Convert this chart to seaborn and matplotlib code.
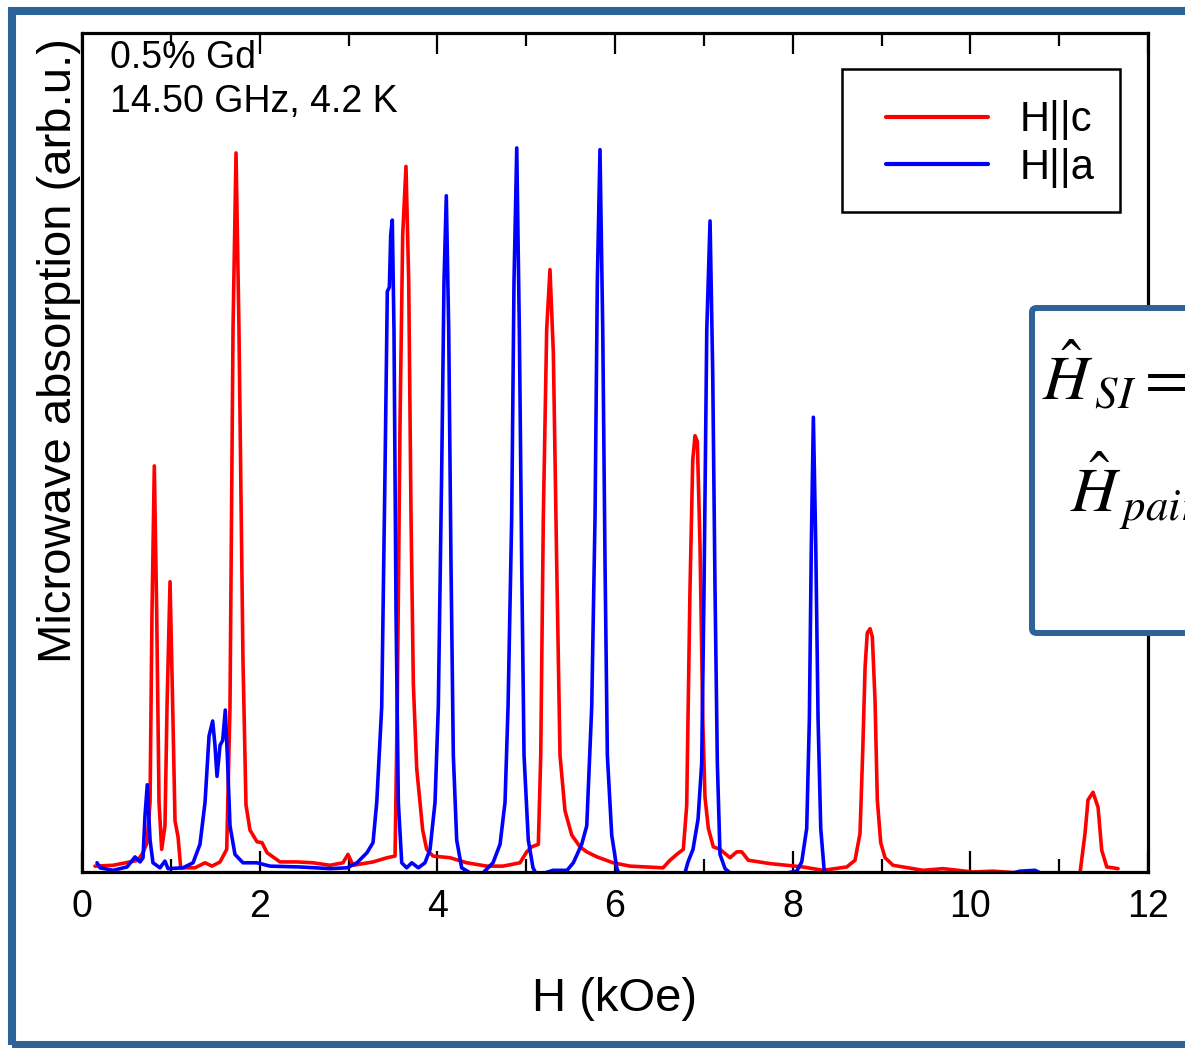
import pandas as pd
import numpy as np
import matplotlib
matplotlib.use("Agg")
import matplotlib.pyplot as plt
import seaborn as sns
from matplotlib.patches import Rectangle, FancyBboxPatch

# ---- dados (H em kOe, absorcao em u.a.) ----
h_c = [0.146, 0.349, 0.540, 0.630, 0.687, 0.732, 0.766, 0.788, 0.814, 0.841,
       0.867, 0.897, 0.934, 0.957, 0.991, 1.021, 1.047, 1.081, 1.111, 1.272,
       1.385, 1.463, 1.554, 1.629, 1.666, 1.700, 1.734, 1.767, 1.812, 1.846,
       1.891, 1.970, 2.026, 2.083, 2.229, 2.420, 2.600, 2.792, 2.938, 2.994,
       3.051, 3.276, 3.434, 3.524, 3.549, 3.580, 3.610, 3.647, 3.678, 3.704,
       3.730, 3.768, 3.805, 3.835, 3.880, 3.951, 4.143, 4.331, 4.556, 4.739,
       4.931, 5.006, 5.063, 5.137, 5.164, 5.193, 5.231, 5.268, 5.306, 5.344,
       5.381, 5.437, 5.513, 5.606, 5.682, 5.798, 5.978, 6.169, 6.541, 6.619,
       6.695, 6.769, 6.807, 6.844, 6.875, 6.901, 6.927, 6.957, 6.988, 7.013,
       7.051, 7.107, 7.182, 7.295, 7.370, 7.427, 7.501, 7.745, 8.117, 8.342,
       8.609, 8.702, 8.758, 8.789, 8.815, 8.840, 8.871, 8.897, 8.927, 8.953,
       8.991, 9.040, 9.130, 9.467, 9.693, 10.030, 10.255, 10.672, 11.010, 11.235,
       11.291, 11.325, 11.381, 11.438, 11.479, 11.536, 11.663]
a_c = [0.007, 0.008, 0.012, 0.014, 0.023, 0.035, 0.083, 0.309, 0.484, 0.309,
       0.083, 0.027, 0.055, 0.197, 0.346, 0.197, 0.061, 0.042, 0.005, 0.005,
       0.011, 0.007, 0.012, 0.027, 0.197, 0.647, 0.857, 0.647, 0.253, 0.080,
       0.050, 0.036, 0.035, 0.023, 0.012, 0.012, 0.011, 0.008, 0.011, 0.021,
       0.008, 0.012, 0.017, 0.019, 0.197, 0.534, 0.759, 0.841, 0.703, 0.422,
       0.224, 0.123, 0.083, 0.050, 0.027, 0.019, 0.017, 0.011, 0.007, 0.007,
       0.011, 0.024, 0.030, 0.033, 0.139, 0.422, 0.647, 0.718, 0.619, 0.365,
       0.139, 0.073, 0.044, 0.030, 0.024, 0.018, 0.011, 0.007, 0.005, 0.014,
       0.021, 0.027, 0.079, 0.336, 0.491, 0.520, 0.513, 0.389, 0.182, 0.089,
       0.052, 0.030, 0.027, 0.017, 0.024, 0.024, 0.014, 0.010, 0.006, 0.002,
       0.006, 0.014, 0.046, 0.145, 0.244, 0.285, 0.290, 0.280, 0.205, 0.086,
       0.035, 0.017, 0.008, 0.002, 0.004, 0.000, 0.001, -0.002, -0.001, -0.001,
       0.046, 0.086, 0.095, 0.077, 0.026, 0.006, 0.004]

h_a = [0.169, 0.203, 0.349, 0.507, 0.597, 0.653, 0.687, 0.709, 0.735, 0.766,
       0.799, 0.878, 0.934, 0.968, 1.137, 1.250, 1.328, 1.385, 1.430, 1.471,
       1.497, 1.520, 1.554, 1.584, 1.613, 1.636, 1.666, 1.722, 1.812, 1.970,
       2.116, 2.454, 2.792, 2.983, 3.096, 3.208, 3.276, 3.318, 3.374, 3.411,
       3.437, 3.460, 3.475, 3.493, 3.512, 3.535, 3.561, 3.599, 3.655, 3.712,
       3.786, 3.861, 3.918, 3.974, 4.011, 4.049, 4.075, 4.101, 4.128, 4.154,
       4.180, 4.218, 4.274, 4.368, 4.514, 4.627, 4.706, 4.762, 4.796, 4.837,
       4.863, 4.894, 4.923, 4.950, 4.976, 5.024, 5.077, 5.122, 5.302, 5.460,
       5.531, 5.625, 5.682, 5.738, 5.775, 5.801, 5.831, 5.862, 5.888, 5.914,
       5.963, 6.020, 6.057, 6.507, 6.788, 6.822, 6.878, 6.935, 6.976, 7.002,
       7.033, 7.070, 7.100, 7.126, 7.152, 7.182, 7.239, 7.295, 7.633, 8.046,
       8.102, 8.158, 8.188, 8.210, 8.233, 8.260, 8.286, 8.316, 8.353, 8.383,
       9.209, 10.334, 10.560, 10.728, 10.807]
a_a = [0.011, 0.005, 0.002, 0.006, 0.018, 0.012, 0.017, 0.067, 0.104, 0.038,
       0.011, 0.005, 0.013, 0.004, 0.005, 0.011, 0.033, 0.083, 0.162, 0.180,
       0.151, 0.114, 0.151, 0.157, 0.193, 0.139, 0.055, 0.021, 0.011, 0.011,
       0.007, 0.006, 0.004, 0.005, 0.011, 0.023, 0.035, 0.083, 0.197, 0.478,
       0.692, 0.697, 0.759, 0.777, 0.647, 0.309, 0.083, 0.011, 0.005, 0.011,
       0.005, 0.011, 0.027, 0.083, 0.197, 0.478, 0.703, 0.806, 0.647, 0.365,
       0.139, 0.038, 0.005, -0.001, -0.001, 0.011, 0.033, 0.083, 0.197, 0.422,
       0.703, 0.863, 0.647, 0.365, 0.139, 0.038, 0.005, -0.004, 0.002, 0.002,
       0.011, 0.033, 0.055, 0.197, 0.422, 0.703, 0.861, 0.647, 0.365, 0.139,
       0.044, 0.005, -0.006, -0.007, -0.001, 0.012, 0.027, 0.063, 0.130, 0.336,
       0.646, 0.776, 0.595, 0.336, 0.130, 0.021, 0.004, -0.001, -0.007, 0.001,
       0.012, 0.052, 0.182, 0.389, 0.542, 0.389, 0.182, 0.052, 0.004, -0.004,
       -0.007, -0.005, 0.001, 0.002, -0.002]

series = ["H||c", "H||a"]
cores = {"H||c": "#ff0000", "H||a": "#0000ff"}
xticks_maior = [0, 2, 4, 6, 8, 10, 12]
xticks_menor = [1, 3, 5, 7, 9, 11]

df = pd.concat([
    pd.DataFrame({"H": h_c, "A": a_c, "dir": series[0]}),
    pd.DataFrame({"H": h_a, "A": a_a, "dir": series[1]}),
], ignore_index=True)

sns.set_style("white")
plt.rcParams["font.family"] = ["Liberation Sans", "DejaVu Sans"]
plt.rcParams["mathtext.fontset"] = "stix"
plt.rcParams["text.color"] = "black"
plt.rcParams["axes.labelcolor"] = "black"
plt.rcParams["xtick.color"] = "black"

W, Hpx = 1185, 1048
fig = plt.figure(figsize=(W / 100, Hpx / 100), dpi=100)
ax = fig.add_axes([82 / W, 1 - 872 / Hpx, (1148 - 82) / W, (872 - 33) / Hpx])

sns.lineplot(data=df, x="H", y="A", hue="dir", hue_order=series, palette=cores,
             sort=False, estimator=None, linewidth=2.6, ax=ax)

ax.set_xlim(0, 12)
ax.set_ylim(0, 1)
ax.set_xticks(xticks_maior)
ax.set_xticks(xticks_menor, minor=True)
ax.set_yticks([])
ax.tick_params(axis="x", which="both", direction="in", top=True, bottom=True,
               labelsize=27, pad=12, width=1.6, color="black", labelcolor="black")
ax.tick_params(axis="x", which="major", length=15)
ax.tick_params(axis="x", which="minor", length=9.5)
for s in ax.spines.values():
    s.set_linewidth(2.3)
    s.set_color("black")

ax.set_xlabel("H (kOe)", fontsize=34)
ax.xaxis.set_label_coords(0.5, -0.125)
ax.set_ylabel("Microwave absorption (arb.u.)", fontsize=34)
ax.yaxis.set_label_coords(-0.001, 0.622)

ax.text(0.026, 0.958, "0.5% Gd", transform=ax.transAxes, fontsize=27, va="baseline")
ax.text(0.026, 0.906, "14.50 GHz, 4.2 K", transform=ax.transAxes, fontsize=27, va="baseline")

# legenda sem moldura + caixa desenhada a parte
leg = ax.legend(loc="center left", bbox_to_anchor=((886 - 82) / 1066, (872 - 144) / 839),
                borderaxespad=0, borderpad=0, fontsize=30, frameon=False,
                handlelength=2.45, handletextpad=0.75, labelspacing=0.18)
for ln in leg.get_lines():
    ln.set_linewidth(3)
ax.add_patch(Rectangle(((842 - 82) / 1066, (872 - 212) / 839), (1120 - 842) / 1066,
                       (212 - 69) / 839, transform=ax.transAxes, fill=False,
                       edgecolor="black", linewidth=1.8, zorder=5))

# moldura do slide e caixa com a equacao
fig.patches.append(Rectangle((12 / W, 1 - 1045 / Hpx), 1.5, (1045 - 11) / Hpx,
                             transform=fig.transFigure, fill=False,
                             edgecolor="#2E6399", linewidth=5.8))
fig.patches.append(FancyBboxPatch((1032 / W, 1 - 633 / Hpx), 0.5, (633 - 308) / Hpx,
                                  boxstyle="round,pad=0,rounding_size=0.004",
                                  transform=fig.transFigure, facecolor="white",
                                  edgecolor="#2E6399", linewidth=4.3, zorder=2))
fig.text(1042 / W, 1 - 400 / Hpx, r"$\hat{H}_{\,SI} =$", fontsize=46, va="baseline", zorder=3)
fig.text(1070 / W, 1 - 513 / Hpx, r"$\hat{H}_{\,pair}$", fontsize=46, va="baseline", zorder=3)

fig.savefig("out.png", dpi=100)
